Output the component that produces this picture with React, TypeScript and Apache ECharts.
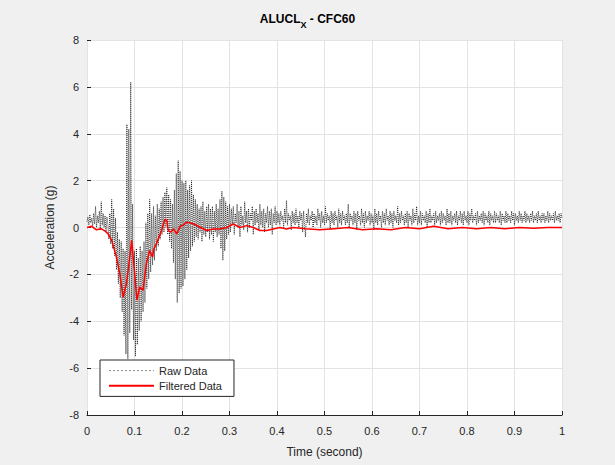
import React, { useEffect, useRef } from "react";
import * as echarts from "echarts";

const RAW_DT = 0.002;
const rawValues = [
  // 0 - 0.044
  0.25, 0.45, 0.1, 0.55, 0.2, 0.4, 0.05, 0.6, 0.15, 0.9, 0.0, 0.5, 0.2, 0.7, -0.1, 1.1, 0.1, 0.6, 0.0, 0.5, -0.2, 0.45, 0.1,
  // 0.046 - 0.076
  -0.5, 0.6, -0.7, 1.2, -0.9, 0.8, -1.2, 0.4, -1.8, -0.2, -2.4, -0.5, -3.0, -0.6, -3.6, -0.9,
  // 0.078 - 0.13
  -4.6, -1.0, -5.4, 4.4, -5.6, 4.2, -4.5, 6.2, -3.5, 1.0, -4.8, -1.0, -5.5, -0.9, -5.0, -1.3, -4.4, -0.8, -4.0, -1.0,
  -3.6, -0.6, -3.2, 0.2, -2.6, 0.6, -2.2,
  // 0.132 - 0.186
  1.2, -1.9, 0.6, -1.6, 0.9, -1.4, 0.5, -1.0, 1.0, -0.8, 0.8, -0.5, 1.1, -0.3, 1.3, -0.2, 1.5, 0.0, 1.7, -0.3,
  1.4, -0.6, 1.2, -0.9, 1.0, -1.5, 1.6, -2.2,
  // 0.188 - 0.23
  2.3, -3.2, 2.85, -2.8, 2.4, -2.6, 2.0, -2.5, 1.9, -2.2, 2.0, -1.8, 1.6, -1.3, 1.8, -1.0, 2.0, -0.8, 1.4, -0.6,
  1.2, -0.4,
  // 0.232 - 0.3
  1.0, -0.5, 0.8, -0.2, 0.9, -0.6, 1.1, -0.3, 0.7, -0.4, 0.9, -0.2, 1.0, -0.5, 0.8, -0.3, 0.9, -0.6, 0.7, -0.2,
  1.0, -0.4, 0.8, -0.3, 1.2, -0.9, 1.55, -1.4, 1.3, -1.0, 1.1, -0.5, 0.9, -0.3, 1.0,
  // 0.302 - 0.4
  -0.2, 0.8, 0.1, 0.9, -0.3, 0.6, 0.2, 1.0, 0.0, 0.7,
  -0.4, 0.9, 0.1, 0.5, -0.1, 1.1, 0.2, 0.7, -0.2, 0.8,
  0.0, 0.6, 0.3, 0.9, -0.3, 0.7, 0.1, 0.8, 0.2, 0.6,
  -0.1, 1.0, 0.1, 0.7, 0.0, 0.8, -0.2, 0.6, 0.2, 0.9,
  0.0, 0.7, 0.1, 0.8, -0.3, 0.6, 0.2, 0.9, 0.1, 0.7,
  // 0.402 - 1.0
  0.2, 0.6, 0.1, 0.7, 0.3, 0.5, 0.0, 0.8, 0.2, 1.15,
  0.1, 0.6, 0.3, 0.5, -0.1, 0.7, 0.2, 0.6, 0.1, 0.8,
  0.2, 0.5, 0.0, 0.7, 0.3, 0.6, -0.2, 0.7, 0.1, -0.4,
  0.6, 0.2, 0.8, 0.1, 0.5, 0.3, 0.7, 0.0, 0.6, 0.2,
  0.5, 0.1, 0.8, 0.3, 0.6, 0.0, 0.7, 0.2, 0.5, 0.1,
  0.9, 0.2, 0.6, 0.3, 0.5, -0.1, 0.7, 0.2, 0.6, 0.1,
  0.7, 0.3, 0.5, 0.0, 0.8, 0.2, 0.6, 0.1, 0.7, 0.3,
  0.5, 0.1, 0.6, 0.2, 1.0, 0.0, 0.6, 0.3, 0.5, 0.1,
  0.7, 0.2, 0.6, -0.1, 0.7, 0.3, 0.5, 0.1, 0.8, 0.2,
  0.6, 0.0, 0.7, 0.2, 0.5, 0.3, 0.7, 0.1, 0.6, 0.2,
  0.5, -0.1, 0.8, 0.2, 0.6, 0.1, 0.7, 0.3, 0.5, 0.0,
  0.7, 0.2, 0.6, 0.1, 0.8, 0.3, 0.5, 0.1, 0.7, 0.2,
  0.6, 0.0, 0.7, 0.3, 0.5, 0.2, 0.9, 0.1, 0.6, 0.2,
  0.7, 0.3, 0.5, 0.1, 0.6, 0.2, 0.7, 0.0, 0.6, 0.3,
  0.5, 0.1, 0.8, 0.2, 0.6, 0.3, 0.9, 0.1, 0.5, 0.2,
  0.7, 0.1, 0.6, 0.3, 0.5, 0.2, 0.7, 0.0, 0.6, 0.2,
  0.8, 0.2, 0.5, 0.3, 0.6, 0.1, 0.7, 0.2, 0.5, 0.3,
  0.6, 0.1, 0.7, 0.2, 0.6, 0.3, 0.5, 0.1, 0.8, 0.2,
  0.6, 0.2, 0.7, 0.1, 0.5, 0.3, 0.6, 0.2, 0.7, 0.1,
  0.5, 0.3, 0.7, 0.2, 0.6, 0.1, 0.7, 0.3, 0.5, 0.2,
  0.7, 0.1, 0.6, 0.3, 0.8, 0.2, 0.5, 0.3, 0.6, 0.1,
  0.7, 0.2, 0.5, 0.3, 0.6, 0.2, 0.7, 0.1, 0.6, 0.3,
  0.5, 0.2, 0.7, 0.1, 0.6, 0.3, 0.5, 0.2, 0.7, 0.2,
  0.6, 0.3, 0.5, 0.2, 0.7, 0.1, 0.6, 0.3, 0.5, 0.2,
  0.7, 0.2, 0.6, 0.3, 0.5, 0.2, 0.7, 0.3, 0.6, 0.1,
  0.6, 0.3, 0.5, 0.2, 0.7, 0.3, 0.6, 0.2, 0.5, 0.3,
  0.7, 0.2, 0.6, 0.3, 0.5, 0.2, 0.6, 0.3, 0.7, 0.2,
  0.5, 0.3, 0.6, 0.2, 0.7, 0.3, 0.5, 0.2, 0.6, 0.3,
  0.6, 0.2, 0.5, 0.3, 0.7, 0.2, 0.6, 0.3, 0.5, 0.3,
  0.6, 0.2, 0.7, 0.3, 0.5, 0.3, 0.6, 0.2, 0.6, 0.4,
];

const filteredTimes = [
  0, 0.01, 0.02, 0.03, 0.038, 0.044, 0.052, 0.062, 0.069, 0.076,
  0.083, 0.09, 0.094, 0.101, 0.105, 0.111, 0.118, 0.125, 0.132, 0.138,
  0.141, 0.146, 0.152, 0.157, 0.164, 0.168, 0.171, 0.176, 0.182, 0.189,
  0.196, 0.203, 0.21, 0.224, 0.238, 0.252, 0.266, 0.28, 0.294, 0.308,
  0.322, 0.336, 0.35, 0.364, 0.378, 0.392, 0.406, 0.42, 0.434, 0.46,
  0.49, 0.52, 0.55, 0.58, 0.61, 0.64, 0.67, 0.7, 0.73, 0.76,
  0.79, 0.82, 0.85, 0.88, 0.91, 0.94, 0.97, 1.0,
];
const filteredValues = [
  0.0, 0.05, -0.1, -0.05, -0.15, -0.26, -0.55, -1.26, -1.96, -2.97,
  -2.4, -1.3, -0.55, -2.1, -3.1, -2.54, -2.68, -1.54, -0.98, -1.26,
  -0.9, -0.7, -0.4, -0.13, 0.35, 0.3, -0.13, -0.2, -0.06, -0.27,
  0.05, 0.1, 0.23, 0.16, 0.01, -0.13, -0.06, -0.06, 0.0, 0.15,
  0.0, 0.08, 0.0, -0.13, -0.13, -0.06, 0.0, -0.06, 0.0, -0.05,
  -0.1, -0.05, 0.0, -0.1, -0.05, -0.1, 0.0, -0.05, 0.05, -0.05,
  0.0, -0.05, 0.0, -0.05, 0.0, -0.03, 0.0, 0.0,
];

const FONT = "'Liberation Sans', Arial, Helvetica, sans-serif";
const TEXT = "#262626";

export default function App() {
  const ref = useRef<HTMLDivElement>(null);
  useEffect(() => {
    if (!ref.current) return;
    const chart = echarts.init(ref.current, undefined, { renderer: "svg" });
    const rawData = rawValues.map((v, i) => [+(i * RAW_DT).toFixed(4), v]);
    const filtData = filteredTimes.map((t, i) => [t, filteredValues[i]]);
    chart.setOption({
      animation: false,
      backgroundColor: "#f0f0f0",
      textStyle: { fontFamily: FONT },
      title: {
        text: "{a|ALUCL}{s|X}{a| - CFC60}",
        left: "center",
        top: 4,
        textStyle: {
          rich: {
            a: { fontFamily: FONT, fontSize: 12, fontWeight: "bold", color: "#000", lineHeight: 20, verticalAlign: "middle" },
            s: { fontFamily: FONT, fontSize: 9, fontWeight: "bold", color: "#000", lineHeight: 20, verticalAlign: "bottom" },
          },
        },
      },
      grid: {
        left: 87,
        right: 53,
        top: 40,
        bottom: 50,
        show: true,
        backgroundColor: "#ffffff",
        borderWidth: 0,
      },
      legend: {
        orient: "vertical",
        left: 100,
        top: 360,
        backgroundColor: "#ffffff",
        borderColor: TEXT,
        borderWidth: 1,
        borderRadius: 0,
        padding: [5, 12, 5, 8],
        itemGap: 4,
        itemWidth: 45,
        itemHeight: 14,
        itemStyle: { opacity: 0 },
        textStyle: { fontFamily: FONT, fontSize: 11, color: TEXT },
        data: [
          { name: "Raw Data", lineStyle: { color: "#8a8a8a", width: 1, type: [2, 2] } },
          { name: "Filtered Data" },
        ],
      },
      xAxis: {
        type: "value",
        min: 0,
        max: 1,
        interval: 0.1,
        name: "Time (second)",
        nameLocation: "middle",
        nameGap: 31,
        nameTextStyle: { fontFamily: FONT, fontSize: 12, color: TEXT },
        axisLine: { show: true, onZero: false, lineStyle: { color: TEXT, width: 1 } },
        axisTick: { show: true, inside: true, length: 4, lineStyle: { color: TEXT } },
        axisLabel: { fontFamily: FONT, fontSize: 11, color: TEXT, margin: 10 },
        splitLine: { show: true, lineStyle: { color: "#e3e3e3", width: 1 } },
      },
      yAxis: {
        type: "value",
        min: -8,
        max: 8,
        interval: 2,
        name: "Acceleration (g)",
        nameLocation: "middle",
        nameGap: 31,
        nameRotate: 90,
        nameTextStyle: { fontFamily: FONT, fontSize: 12, color: TEXT },
        axisLine: { show: false, onZero: false },
        axisTick: { show: true, inside: true, length: 4, lineStyle: { color: TEXT } },
        axisLabel: { fontFamily: FONT, fontSize: 11, color: TEXT, margin: 8 },
        splitLine: { show: true, lineStyle: { color: "#e3e3e3", width: 1 } },
      },
      series: [
        {
          name: "Raw Data",
          type: "line",
          data: rawData,
          showSymbol: false,
          symbol: "none",
          lineStyle: { color: "#000000", width: 0.75, type: [1, 1], opacity: 1 },
          itemStyle: { color: "#555555" },
          z: 2,
        },
        {
          name: "Filtered Data",
          type: "line",
          data: filtData,
          showSymbol: false,
          symbol: "none",
          lineStyle: { color: "#ff0000", width: 1.5 },
          itemStyle: { color: "#ff0000" },
          z: 3,
        },
      ],
    });
    return () => chart.dispose();
  }, []);
  return (
    <div
      ref={ref}
      style={{ position: "absolute", left: 0, top: 0, width: 615, height: 465 }}
    />
  );
}
